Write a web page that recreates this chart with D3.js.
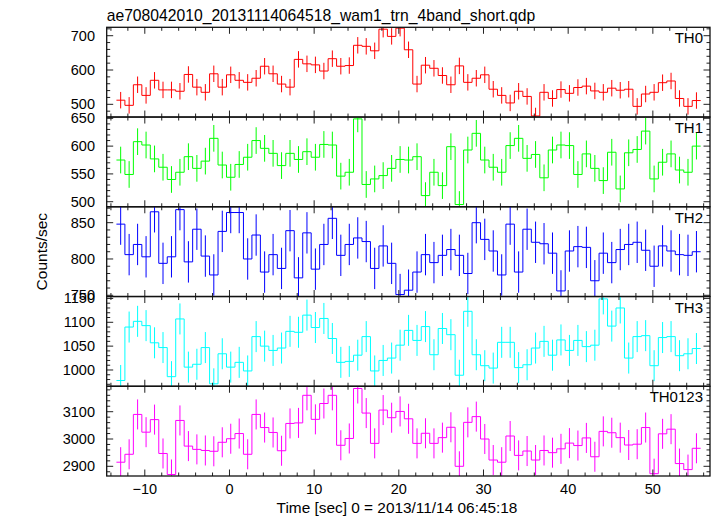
<!DOCTYPE html>
<html><head><meta charset="utf-8">
<script src="https://cdn.jsdelivr.net/npm/d3@7"></script>
<style>body{margin:0;background:#fff}svg{display:block}text{font-family:"Liberation Sans",Arial,sans-serif;fill:#000}</style>
</head><body>
<script>
const title = "ae708042010_20131114064518_wam1_trn_4band_short.qdp";
const xTitle = "Time [sec] 0 = 2013/11/14 06:45:18";
const yTitle = "Counts/sec";
const panelNames = ["TH0","TH1","TH2","TH3","TH0123"];
const panelColors = ["#ff0000","#00ff00","#0000ff","#00ffff","#ff00ff"];
const times = [-12.85,-11.85,-10.85,-9.85,-8.85,-7.85,-6.85,-5.85,-4.85,-3.85,-2.85,-1.85,-0.85,0.15,1.15,2.15,3.15,4.15,5.15,6.15,7.15,8.15,9.15,10.15,11.15,12.15,13.15,14.15,15.15,16.15,17.15,18.15,19.15,20.15,21.15,22.15,23.15,24.15,25.15,26.15,27.15,28.15,29.15,30.15,31.15,32.15,33.15,34.15,35.15,36.15,37.15,38.15,39.15,40.15,41.15,42.15,43.15,44.15,45.15,46.15,47.15,48.15,49.15,50.15,51.15,52.15,53.15,54.15,55.15];
const th0 = [512,497,557,526,570,542,542,538,587,550,535,589,550,586,570,564,576,611,589,559,550,631,618,
  615,597,633,611,613,672,669,656,719,698,722,659,559,614,605,584,557,612,564,576,586,544,526,504,
  538,523,466,535,517,543,532,549,553,539,535,547,541,544,494,530,535,563,568,517,494,511];
const th1 = [575,549,608,602,577,562,540,553,581,560,573,614,566,544,567,580,610,596,587,565,587,576,590,
  580,603,602,546,553,649,531,541,547,560,576,575,581,511,553,529,599,495,593,623,575,562,553,601,
  614,578,585,543,593,602,601,549,586,560,538,589,523,588,594,627,541,571,586,557,553,600];
const th2 = [848,806,820,803,865,794,803,868,796,841,804,778,838,864,864,800,833,782,806,787,839,774,836,
  786,820,856,805,820,829,824,787,818,794,751,757,782,806,795,805,813,805,780,850,827,811,778,848,
  782,841,823,821,808,756,811,817,816,770,808,795,813,820,823,812,790,818,811,806,805,810];
const th3 = [978,1090,1102,1093,1057,1047,986,1107,1006,1012,1047,971,1034,1006,1016,998,1070,1050,1041,1046,1081,1079,1115,
  1089,1108,1066,1016,1018,1031,1070,998,1020,1025,1052,1083,1062,1091,1032,1087,1074,989,1123,1032,1009,1004,1058,1058,
  1005,1011,1046,1060,1031,1063,1041,1062,1049,1052,1149,1092,1130,1025,1070,1072,1009,1068,1070,1030,1034,1045];
const th0123 = [2915,2944,3090,3025,3071,2947,2870,3068,2974,2962,2958,2955,2988,3001,3020,2944,3090,3042,3024,2957,3057,3059,
  3160,3072,3130,3160,2977,3002,3185,3095,2984,3106,3078,3101,3074,2984,3021,2984,3005,3043,2900,3061,3082,3000,2923,2915,3011,
  2940,2956,2923,2958,2950,2964,2985,2976,3004,2935,3028,3023,3005,2978,2981,3042,2873,3019,3036,2910,2888,2966];
const series = [th0, th1, th2, th3, th0123];
const errors = [24, 24, 28.5, 32.5, 55];
const binWidth = 1;
const xTicks = [-10, 0, 10, 20, 30, 40, 50];
const yDomains = [[462.9, 724.5],[490.9, 652.3],[748.3, 871.9],[965.9, 1154],[2864.5, 3193.2]];
const yMajor = [100, 50, 50, 50, 100];
const yMinor = [20, 10, 10, 10, 20];

(function () {
const W = 717, H = 516;
const pLeft = 106.7, pRight = 710, pTop = 27.3, pBottom = 476;
const ph = (pBottom - pTop) / 5;
const svg = d3.select("body").append("svg").attr("width", W).attr("height", H);
const x = d3.scaleLinear().domain([-14.5, 56.75]).range([pLeft, pRight]);

svg.append("text").attr("x", pLeft).attr("y", 20.5).attr("font-size", 15.7).text(title);

series.forEach((vals, p) => {
  const y0 = pTop + p * ph, y1 = y0 + ph;
  const y = d3.scaleLinear().domain(yDomains[p]).range([y1, y0]);
  const g = svg.append("g");
  const cid = "clip" + p;
  svg.append("clipPath").attr("id", cid).append("rect").attr("x", pLeft).attr("y", y0).attr("width", pRight - pLeft).attr("height", ph);
  const data = times.map((t, i) => ({t, v: vals[i]}));
  const pts = [];
  data.forEach(d => { pts.push([d.t - binWidth / 2, d.v]); pts.push([d.t + binWidth / 2, d.v]); });
  const line = d3.line().x(d => x(d[0])).y(d => y(d[1]));
  const dg = g.append("g").attr("clip-path", `url(#${cid})`);
  dg.append("path").attr("d", line(pts)).attr("fill", "none").attr("stroke", panelColors[p]).attr("stroke-width", 1);
  dg.selectAll("line.err").data(data).enter().append("line")
    .attr("x1", d => x(d.t)).attr("x2", d => x(d.t))
    .attr("y1", d => y(d.v - errors[p])).attr("y2", d => y(d.v + errors[p]))
    .attr("stroke", panelColors[p]).attr("stroke-width", 1);
  const xt = d3.range(-14, 57, 2);
  xt.forEach(v => {
    const len = (v % 10 === 0) ? 6.5 : 3.5;
    const xx = x(v);
    g.append("line").attr("x1", xx).attr("x2", xx).attr("y1", y1).attr("y2", y1 - len).attr("stroke", "#222").attr("stroke-width", 1);
    g.append("line").attr("x1", xx).attr("x2", xx).attr("y1", y0).attr("y2", y0 + len).attr("stroke", "#222").attr("stroke-width", 1);
  });
  const [lo, hi] = yDomains[p];
  const mt = d3.range(Math.ceil(lo / yMinor[p]) * yMinor[p], hi, yMinor[p]);
  mt.forEach(v => {
    const major = Math.abs(v % yMajor[p]) < 1e-6;
    const len = major ? 6.5 : 3.5;
    const yy = y(v);
    g.append("line").attr("x1", pLeft).attr("x2", pLeft + len).attr("y1", yy).attr("y2", yy).attr("stroke", "#222");
    g.append("line").attr("x1", pRight).attr("x2", pRight - len).attr("y1", yy).attr("y2", yy).attr("stroke", "#222");
    if (major) {
      g.append("text").attr("x", 95).attr("y", yy + 5).attr("text-anchor", "end").attr("font-size", 14.5).text(v);
    }
  });
  g.append("rect").attr("x", pLeft).attr("y", y0).attr("width", pRight - pLeft).attr("height", ph)
    .attr("fill", "none").attr("stroke", "#111").attr("stroke-width", 1.3);
  g.append("text").attr("x", 703).attr("y", y0 + 16).attr("text-anchor", "end").attr("font-size", 15).text(panelNames[p]);
});

xTicks.forEach(v => {
  svg.append("text").attr("x", x(v)).attr("y", 494).attr("text-anchor", "middle").attr("font-size", 14.5)
    .text(v < 0 ? "\u2212" + Math.abs(v) : v);
});
svg.append("text").attr("x", 397).attr("y", 513).attr("text-anchor", "middle").attr("font-size", 15.4).text(xTitle);
svg.append("text").attr("transform", `translate(47,${(pTop + pBottom) / 2}) rotate(-90)`).attr("text-anchor", "middle").attr("font-size", 15.5).text(yTitle);
})();
</script>
</body></html>
